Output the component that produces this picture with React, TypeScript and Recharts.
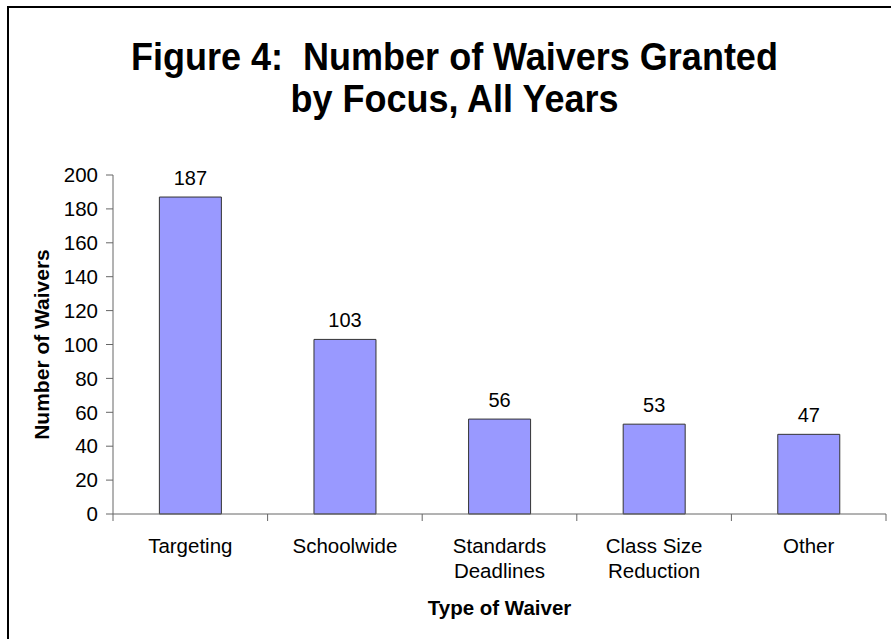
import React from 'react';
import { BarChart, Bar, XAxis, YAxis, LabelList } from 'recharts';

// Figure 4 — waivers granted by focus, all years.
const focusCategories = ['Targeting', 'Schoolwide', 'Standards\nDeadlines', 'Class Size\nReduction', 'Other'];
const waiverCounts = [187, 103, 56, 53, 47];
const yTicks = [0, 20, 40, 60, 80, 100, 120, 140, 160, 180, 200];

const FONT = '"Liberation Sans", Arial, sans-serif';
const AXIS = '#666666';
const BAR_FILL = '#9999FF';
const BAR_STROKE = '#333333';

const data = focusCategories.map((focus, i) => ({ focus, waivers: waiverCounts[i] }));

// Category tick: label (may wrap on \n) + tick marks on the band edges, Excel-style.
const FocusTick = (props: any) => {
  const { x, y, payload, index, visibleTicksCount, width } = props;
  const count = visibleTicksCount || focusCategories.length;
  const half = payload?.offset ? payload.offset : width / count / 2;
  const lines = String(payload.value).split('\n');
  const isLast = index === count - 1;
  return (
    <g>
      <line x1={x - half} x2={x - half} y1={y} y2={y + 7} stroke={AXIS} />
      {isLast && <line x1={x + half} x2={x + half} y1={y} y2={y + 7} stroke={AXIS} />}
      <text x={x} y={y} textAnchor="middle" fontSize={20.5} fontFamily={FONT} fill="#000">
        {lines.map((l, i) => (
          <tspan key={i} x={x} dy={i === 0 ? 39 : 25}>{l}</tspan>
        ))}
      </text>
    </g>
  );
};

export default function App() {
  return (
    <div style={{ position: 'relative', width: 891, height: 639, overflow: 'hidden', background: '#fff' }}>
      <style>{'body{margin:0}'}</style>
      <div
        style={{
          position: 'absolute', left: 7, top: 6, width: 1000, height: 1000,
          border: '2px solid #000', boxSizing: 'border-box',
        }}
      />
      {/* titel litt strukket på høyden, som i originalen */}
      <div
        style={{
          position: 'absolute', left: 0, top: 35.5, width: 909, textAlign: 'center',
          fontFamily: FONT, fontWeight: 700, fontSize: 36, lineHeight: '38.5px', color: '#000',
          whiteSpace: 'pre', transform: 'scaleY(1.09)', transformOrigin: 'top center',
        }}
      >
        {'Figure 4:  Number of Waivers Granted\nby Focus, All Years'}
      </div>
      <div style={{ position: 'absolute', left: 0, top: 0 }}>
        <BarChart
          width={891}
          height={639}
          data={data}
          margin={{ top: 175, right: 5, bottom: 0, left: 0 }}
          barCategoryGap="30%"
        >
          <XAxis
            dataKey="focus"
            height={125}
            tickLine={false}
            tickSize={0}
            tickMargin={0}
            axisLine={{ stroke: AXIS }}
            interval={0}
            tick={<FocusTick />}
            label={{
              value: 'Type of Waiver',
              position: 'insideTop',
              offset: 86,
              style: { fontFamily: FONT, fontWeight: 700, fontSize: 20.5, fill: '#000' },
            }}
          />
          <YAxis
            width={113}
            domain={[0, 200]}
            ticks={yTicks}
            interval={0}
            tickSize={7}
            tickMargin={8}
            axisLine={{ stroke: AXIS }}
            tickLine={{ stroke: AXIS }}
            tick={{ fontSize: 20.5, fontFamily: FONT, fill: '#000' }}
            label={{
              value: 'Number of Waivers',
              angle: -90,
              position: 'insideLeft',
              offset: 42,
              style: { fontFamily: FONT, fontWeight: 700, fontSize: 21, fill: '#000', textAnchor: 'middle' },
            }}
          />
          <Bar dataKey="waivers" fill={BAR_FILL} stroke={BAR_STROKE} strokeWidth={1} isAnimationActive={false}>
            <LabelList
              dataKey="waivers"
              position="top"
              offset={12}
              style={{ fontFamily: FONT, fontSize: 20, fill: '#000' }}
            />
          </Bar>
        </BarChart>
      </div>
    </div>
  );
}
